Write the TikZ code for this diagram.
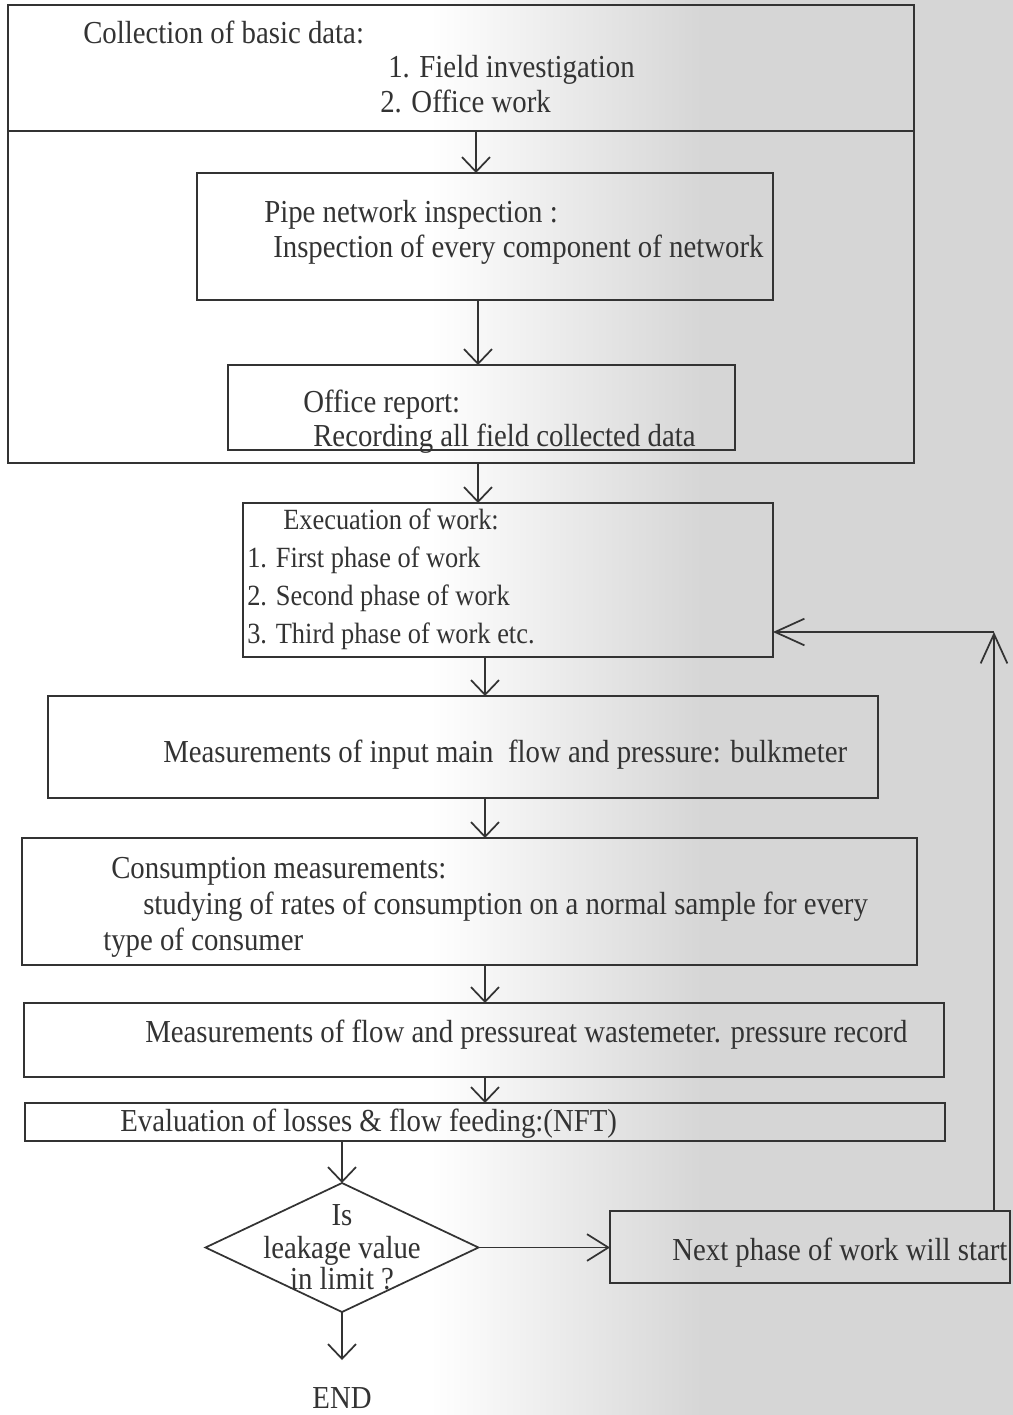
\documentclass[tikz,border=0pt]{standalone}
\usepackage{fontspec}
\setmainfont[FakeStretch=0.9]{Liberation Serif}
\usetikzlibrary{arrows.meta,shapes.geometric}
\definecolor{ink}{gray}{0.2}
\definecolor{scan}{gray}{0.84}
\newcommand\fbx[5]{\node[box,minimum width={(#4-#2)*0.75pt},minimum height={(#5-#3)*0.75pt}] (#1) at ({(#2+#4)/2},{(#3+#5)/2}) {};}
\newcommand\lbx[4]{\node[lbl] (#1) at (#2,{#3+10}) {#4};}
\begin{document}
\begin{tikzpicture}[x=0.75pt,y=-0.75pt,
  box/.style={draw=ink,line width=1.3pt,inner sep=0pt,outer sep=0pt,rectangle},
  lbl/.style={anchor=base west,inner sep=0pt,text=ink,font=\fontsize{24}{28}\selectfont},
  small/.style={font=\fontsize{22}{26}\selectfont},
  clbl/.style={lbl,anchor=base},
  arr/.style={draw=ink,line width=1.3pt,-{Straight Barb[length=11pt,width=21pt]}},
  arrmid/.style={draw=ink,line width=1.3pt,-{Straight Barb[length=16pt,width=20pt]}},
  arrbig/.style={draw=ink,line width=1.3pt,-{Straight Barb[length=22pt,width=20pt]}},
]
% background (scan tone)
\fill[white] (0,0) rectangle (1013,1415);
\shade[left color=white,right color=scan] (430,0) rectangle (700,1415);
\fill[scan] (700,0) rectangle (1013,1415);
\useasboundingbox (0,0) rectangle (1013,1415);

% boxes
\fbx{collect}{8}{5}{914}{131}
\fbx{group}{8}{131}{914}{463}
\fbx{pipe}{197}{173}{773}{300}
\fbx{office}{228}{365}{735}{450}
\fbx{exec}{243}{503}{773}{657}
\fbx{meas}{48}{696}{878}{798}
\fbx{cons}{22}{838}{917}{965}
\fbx{flow}{24}{1003}{944}{1077}
\fbx{eval}{25}{1103}{945}{1141}
\fbx{next}{610}{1211}{1010}{1283}
\node[diamond,draw=ink,line width=1.3pt,inner sep=0pt,outer sep=0pt,
  minimum width=204.75pt,minimum height=96.75pt] (dia) at (342,1247.5) {};

% texts
\lbx{t1}{83}{33}{Collection of basic data:}
\lbx{t2}{388}{67}{1. Field investigation}
\lbx{t3}{380}{102}{2. Office work}
\lbx{t4}{264}{212}{Pipe network inspection :}
\lbx{t5}{273}{247}{Inspection of every component of network}
\lbx{t6}{303}{402}{Office report:}
\lbx{t7}{313}{436}{Recording all field collected data}
\node[lbl,small] (t8) at (283,529) {Execuation of work:};
\node[lbl,small] (t9) at (247,567) {1. First phase of work};
\node[lbl,small] (t10) at (247,605) {2. Second phase of work};
\node[lbl,small] (t11) at (247,643) {3. Third phase of work etc.};
\lbx{t12}{163}{752}{Measurements of input main\ \ flow and pressure: bulkmeter}
\lbx{t13}{111}{868}{Consumption measurements:}
\lbx{t14}{143}{904}{studying of rates of consumption on a normal sample for every}
\lbx{t15}{103}{940}{type of consumer}
\lbx{t16}{145}{1032}{Measurements of flow and pressureat wastemeter. pressure record}
\lbx{t17}{120}{1121}{Evaluation of losses \& flow feeding:(NFT)}
\node[clbl] (t18) at (342,1225) {Is};
\node[clbl] (t19) at (342,1258) {leakage value};
\node[clbl] (t20) at (342,1289) {in limit ?};
\lbx{t21}{672}{1250}{Next phase of work will start}
\node[clbl] (endn) at (342,1408) {END};

% connector columns
\coordinate (xa) at (476,0);
\coordinate (xb) at (478,0);
\coordinate (xc) at (485,0);
\coordinate (xd) at (342,0);
\coordinate (turn) at (994,632);
\coordinate (endtip) at (342,1360);

\draw[arr] (collect.south -| xa) -- (pipe.north -| xa);
\draw[arr] (pipe.south -| xb) -- (office.north -| xb);
\draw[arr] (group.south -| xb) -- (exec.north -| xb);
\draw[arr] (exec.south -| xc) -- (meas.north -| xc);
\draw[arr] (meas.south -| xc) -- (cons.north -| xc);
\draw[arr] (cons.south -| xc) -- (flow.north -| xc);
\draw[arr] (flow.south -| xc) -- (eval.north -| xc);
\draw[arr] (eval.south -| xd) -- (dia.north);
\draw[arrmid] (dia.east) -- (next.west |- dia.east);
\draw[arrbig] (next.north -| turn) -- (turn);
\draw[arrbig] (turn) -- (exec.east |- turn);
\draw[arr] (dia.south) -- (endtip);
\end{tikzpicture}
\end{document}
